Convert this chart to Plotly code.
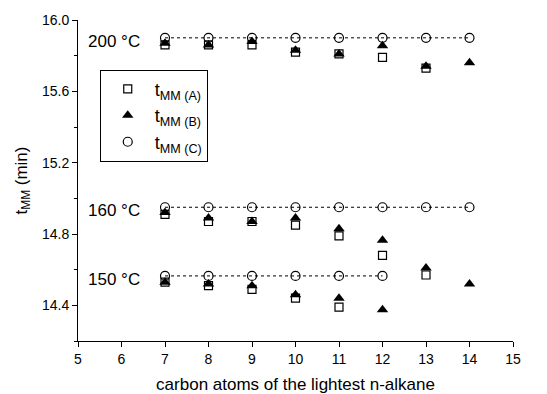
import plotly.graph_objects as go

# carbon atoms of the lightest n-alkane
carbons = [7, 8, 9, 10, 11, 12, 13, 14]

# t_MM (A)
A_200 = [15.86, 15.86, 15.86, 15.82, 15.81, 15.79, 15.73]
A_160 = [14.91, 14.87, 14.87, 14.85, 14.79, 14.68, 14.57]
A_150 = [14.53, 14.51, 14.49, 14.44, 14.39]

# t_MM (B)
B_200 = [15.87, 15.86, 15.88, 15.83, 15.81, 15.855, 15.74, 15.76]
B_160 = [14.92, 14.89, 14.87, 14.89, 14.83, 14.765, 14.61, 14.52]
B_150 = [14.53, 14.52, 14.51, 14.46, 14.44, 14.375]

# t_MM (C)
C_200 = [15.90] * 8
C_160 = [14.95] * 8
C_150 = [14.565] * 6

temps = ["200 °C", "160 °C", "150 °C"]
temp_label_y = [15.88, 14.93, 14.545]

def xs(vals):
    return carbons[:len(vals)]

fig = go.Figure()

ax, ay = [], []
for v in (A_200, A_160, A_150):
    ax += xs(v); ay += v
fig.add_trace(go.Scatter(x=ax, y=ay, mode="markers", name="t<sub>MM (A)</sub>",
                         marker=dict(symbol="square-open", size=8, color="black",
                                     line=dict(width=1.2, color="black"))))

bx, by = [], []
for v in (B_200, B_160, B_150):
    bx += xs(v); by += v
fig.add_trace(go.Scatter(x=bx, y=by, mode="markers", name="t<sub>MM (B)</sub>",
                         marker=dict(symbol="triangle-up", size=10, color="black")))

cx, cy = [], []
for v in (C_200, C_160, C_150):
    cx += xs(v) + [None]; cy += v + [None]
fig.add_trace(go.Scatter(x=cx, y=cy, mode="lines", showlegend=False,
                         line=dict(color="black", width=1, dash="dot")))
fig.add_trace(go.Scatter(x=cx, y=cy, mode="markers", name="t<sub>MM (C)</sub>",
                         marker=dict(symbol="circle-open", size=9, color="black",
                                     line=dict(width=1.2, color="black"))))

for t, yy in zip(temps, temp_label_y):
    fig.add_annotation(x=6.47, y=yy, text=t, showarrow=False, xanchor="right",
                       yanchor="middle", font=dict(size=17, color="black"))

font = "Arial, Liberation Sans, sans-serif"
fig.update_layout(
    width=547, height=394,
    margin=dict(l=70, r=42, t=12, b=61),
    paper_bgcolor="white", plot_bgcolor="white",
    font=dict(family=font, color="black", size=14),
    legend=dict(x=0.05, y=0.845, xanchor="left", yanchor="top",
                bordercolor="black", borderwidth=1, bgcolor="white",
                font=dict(size=18), itemwidth=44, tracegroupgap=0),
    xaxis=dict(range=[5, 15], dtick=1, tick0=5, showgrid=False, zeroline=False,
               showline=True, linecolor="black", linewidth=1, automargin=False,
               ticks="outside", ticklen=5, tickcolor="black",
               tickfont=dict(size=14),
               title=dict(text="carbon atoms of the lightest n-alkane",
                          font=dict(size=17), standoff=12)),
    yaxis=dict(range=[14.2, 16.0], tickvals=[14.4, 14.8, 15.2, 15.6, 16.0],
               ticktext=["14.4", "14.8", "15.2", "15.6", "16.0"],
               showgrid=False, zeroline=False, automargin=False,
               showline=True, linecolor="black", linewidth=1,
               ticks="outside", ticklen=5, tickcolor="black",
               tickfont=dict(size=14),
               minor=dict(tickvals=[14.2, 14.6, 15.0, 15.4, 15.8], ticks="outside",
                          ticklen=3, tickcolor="black", showgrid=False),
               title=dict(text="t<sub>MM</sub> (min)", font=dict(size=17), standoff=10)),
)

fig.write_html("out.html")
